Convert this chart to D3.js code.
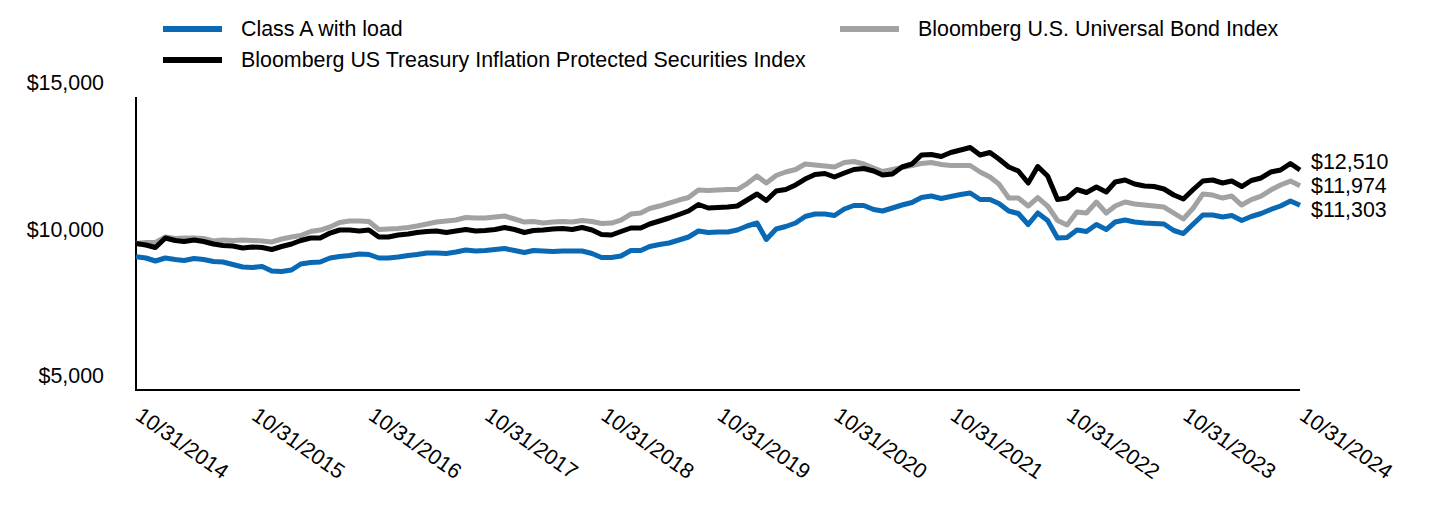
<!DOCTYPE html>
<html>
<head>
<meta charset="utf-8">
<script src="https://cdn.jsdelivr.net/npm/d3@7"></script>
<style>
  html, body { margin: 0; padding: 0; background: #fff; }
  svg { display: block; font-family: "Liberation Sans", Arial, sans-serif; }
</style>
</head>
<body>
<svg id="chart" width="1440" height="516"></svg>
<script>
// ---------- DATA ----------
const startDate = "2014-10-31";
const endDate = "2024-10-31";
const tickLabels = ["10/31/2014","10/31/2015","10/31/2016","10/31/2017","10/31/2018","10/31/2019","10/31/2020","10/31/2021","10/31/2022","10/31/2023","10/31/2024"];
const yTickValues = [5000, 10000, 15000];

const seriesNames = ["Class A with load", "Bloomberg US Treasury Inflation Protected Securities Index", "Bloomberg U.S. Universal Bond Index"];
const seriesColors = ["#0a69b4", "#000000", "#a0a3a2"];

const classA = [9550,9505,9403,9505,9454,9420,9488,9454,9386,9369,9283,9198,9181,9215,9061,9044,9096,9300,9352,9369,9505,9556,9590,9642,9625,
  9505,9505,9539,9590,9625,9676,9676,9659,9710,9778,9744,9761,9795,9829,9761,9693,9761,9744,9727,9744,9744,9744,9659,9522,
  9522,9573,9761,9761,9898,9966,10017,10119,10222,10427,10375,10392,10392,10461,10597,10700,10137,10495,10580,10700,10922,11007,11007,10956,
  11177,11297,11297,11160,11109,11212,11314,11399,11570,11621,11536,11604,11672,11724,11502,11502,11365,11109,11024,10648,11041,10785,10188,10205,
  10461,10410,10648,10478,10734,10802,10734,10700,10683,10666,10444,10341,10666,10973,10973,10904,10956,10785,10922,11024,11160,11280,11450,11303];

const tips = [10000,9949,9863,10188,10102,10068,10119,10068,9983,9932,9915,9846,9881,9863,9795,9898,9983,10102,10188,10188,10358,10461,10461,10427,10461,
  10222,10222,10290,10324,10375,10410,10427,10375,10427,10478,10427,10444,10478,10546,10478,10375,10444,10461,10495,10512,10478,10546,10461,10307,
  10290,10410,10529,10529,10666,10768,10870,10990,11109,11331,11212,11229,11246,11280,11485,11689,11468,11792,11843,11997,12201,12355,12389,12270,
  12406,12526,12560,12474,12338,12372,12611,12713,13021,13038,12969,13106,13191,13276,13021,13106,12884,12611,12474,12065,12628,12304,11502,11553,
  11843,11741,11928,11758,12099,12167,12031,11962,11945,11860,11655,11519,11843,12133,12167,12065,12133,11945,12150,12236,12440,12508,12730,12510];

const universal = [10000,10034,10034,10222,10171,10188,10188,10171,10085,10119,10102,10119,10102,10085,10051,10153,10222,10273,10409,10460,10563,10716,10767,10767,10750,
  10477,10494,10512,10546,10597,10665,10733,10767,10801,10887,10870,10870,10904,10938,10836,10733,10750,10699,10733,10750,10733,10784,10750,10682,
  10699,10801,11006,11040,11194,11279,11381,11484,11569,11825,11808,11825,11842,11842,12047,12303,12064,12320,12440,12525,12713,12679,12644,12610,
  12764,12798,12713,12576,12457,12525,12593,12661,12729,12764,12696,12661,12661,12661,12440,12269,12030,11552,11552,11279,11569,11279,10784,10631,
  11074,11040,11415,11040,11279,11415,11347,11313,11279,11245,11040,10836,11211,11688,11654,11552,11620,11313,11500,11620,11824,11995,12131,11974];

const endLabels = ["$12,510", "$11,974", "$11,303"];

// ---------- LAYOUT ----------
const svg = d3.select("#chart");
const plotLeft = 136, plotRight = 1300, plotTop = 97, plotBottom = 390;
const fontSize = 21.4;

const parse = d3.timeParse("%Y-%m-%d");
const t0 = parse(startDate), t1 = parse(endDate);
const months = d3.range(classA.length).map(i => d3.timeMonth.offset(t0, i));

const x = d3.scaleTime().domain([t0, t1]).range([plotLeft, plotRight]);
const y = d3.scaleLinear().domain([5000, 15000]).range([plotBottom, plotTop]);

// axes lines
svg.append("line").attr("x1", plotLeft).attr("x2", plotLeft).attr("y1", plotTop).attr("y2", plotBottom + 1)
  .attr("stroke", "#000").attr("stroke-width", 2);
svg.append("line").attr("x1", plotLeft - 1).attr("x2", plotRight).attr("y1", plotBottom).attr("y2", plotBottom)
  .attr("stroke", "#000").attr("stroke-width", 2);

// y tick labels
svg.append("g").selectAll("text").data(yTickValues).join("text")
  .attr("x", 104).attr("y", d => y(d) - 14)
  .attr("text-anchor", "end").attr("dominant-baseline", "central")
  .attr("font-size", fontSize).attr("fill", "#000")
  .text(d => "$" + d3.format(",")(d));

// x tick labels
const xTicks = tickLabels.map((s, i) => d3.timeYear.offset(t0, i));
svg.append("g").selectAll("text").data(xTicks).join("text")
  .attr("transform", (d) => `translate(${x(d) + 7},${plotBottom + 16}) rotate(35)`)
  .attr("text-anchor", "start").attr("dominant-baseline", "hanging")
  .attr("font-size", fontSize).attr("fill", "#000")
  .text((d, i) => tickLabels[i]);

// lines
const line = d3.line().x((d, i) => x(months[i])).y(d => y(d));
const drawOrder = [[universal, 2], [tips, 1], [classA, 0]];
drawOrder.forEach(([s, ci]) => {
  svg.append("path").datum(s)
    .attr("d", line)
    .attr("fill", "none")
    .attr("stroke", seriesColors[ci])
    .attr("stroke-width", 5)
    .attr("stroke-linejoin", "round");
});

// end labels with spacing
const ends = [tips[tips.length - 1], universal[universal.length - 1], classA[classA.length - 1]];
const midY = y(ends[1]);
const gap = 24;
const endYs = [midY - gap, midY, midY + gap];
svg.append("g").selectAll("text").data(endLabels).join("text")
  .attr("x", 1311).attr("y", (d, i) => endYs[i])
  .attr("dominant-baseline", "central")
  .attr("font-size", fontSize).attr("fill", "#000")
  .text(d => d);

// legend
const legendItems = [
  { idx: 0, x: 163, y: 29 },
  { idx: 2, x: 840, y: 29 },
  { idx: 1, x: 163, y: 60 }
];
const lg = svg.append("g");
legendItems.forEach(it => {
  lg.append("line").attr("x1", it.x).attr("x2", it.x + 59).attr("y1", it.y).attr("y2", it.y)
    .attr("stroke", seriesColors[it.idx]).attr("stroke-width", 6);
  lg.append("text").attr("x", it.x + 78).attr("y", it.y)
    .attr("dominant-baseline", "central")
    .attr("font-size", fontSize).attr("fill", "#000")
    .text(seriesNames[it.idx]);
});
</script>
</body>
</html>
